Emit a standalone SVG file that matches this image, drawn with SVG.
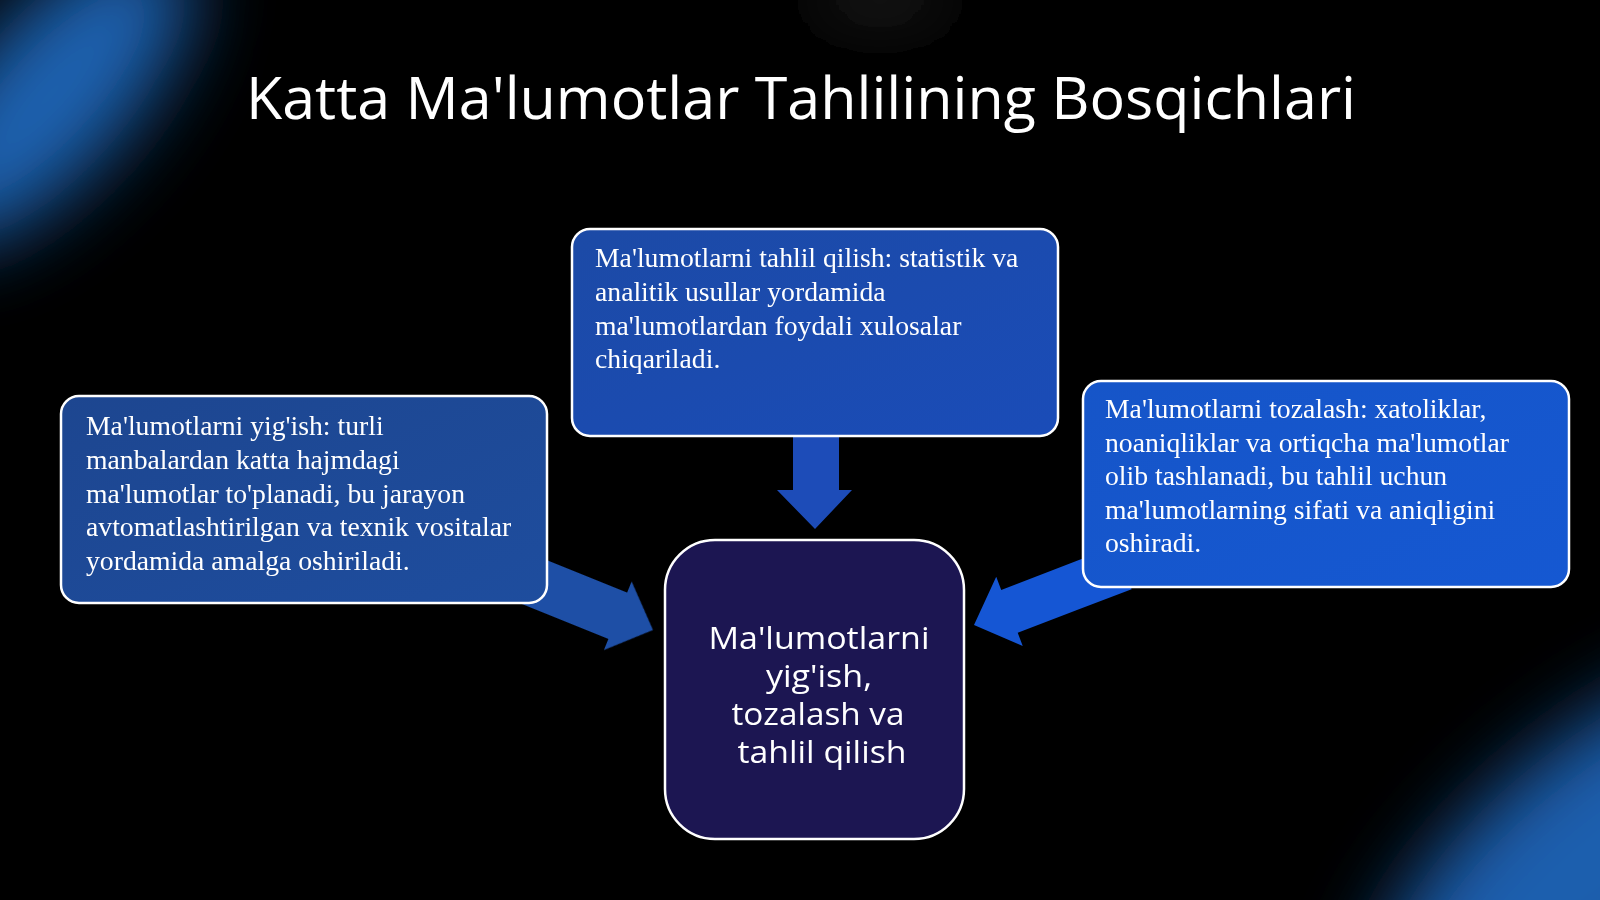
<svg xmlns="http://www.w3.org/2000/svg" width="1600" height="900" viewBox="0 0 1600 900">
  <defs>
    <filter id="blur" filterUnits="userSpaceOnUse" x="-400" y="-400" width="2400" height="1700">
      <feGaussianBlur stdDeviation="40"/>
    </filter>
    <filter id="blur2" filterUnits="userSpaceOnUse" x="600" y="-200" width="560" height="400">
      <feGaussianBlur stdDeviation="30"/>
    </filter>
    <linearGradient id="gLeft" x1="0" y1="0" x2="1" y2="1">
      <stop offset="0" stop-color="#1d4690"/>
      <stop offset="1" stop-color="#1e4d9e"/>
    </linearGradient>
    <linearGradient id="gTop" x1="0" y1="0" x2="1" y2="1">
      <stop offset="0" stop-color="#1c4aa6"/>
      <stop offset="1" stop-color="#1a4cb8"/>
    </linearGradient>
    <linearGradient id="gRight" x1="0" y1="0" x2="1" y2="1">
      <stop offset="0" stop-color="#1655c8"/>
      <stop offset="1" stop-color="#1558d2"/>
    </linearGradient>
    <style>
      .box { stroke: #ffffff; stroke-width: 2.5; }
      .btxt { font-family: "Liberation Serif", "Times New Roman", serif; font-size: 27.7px; fill: #ffffff; }
      .ctxt { font-family: "Open Sans", "Noto Sans", sans-serif; font-size: 31px; fill: #ffffff; text-anchor: middle; }
      .title { font-family: "Open Sans", "Noto Sans", sans-serif; font-size: 58px; fill: #ffffff; text-anchor: middle; }
    </style>
  </defs>

  <rect width="1600" height="900" fill="#000000"/>
  <!-- background glows -->
  <g filter="url(#blur)">
    <ellipse cx="50" cy="95" rx="190" ry="80" fill="#1c62b0" transform="rotate(-48 50 95)"/>
    <ellipse cx="1610" cy="850" rx="290" ry="115" fill="#1a5fae" transform="rotate(-38 1610 850)"/>
  </g>
  <ellipse cx="880" cy="0" rx="70" ry="18" fill="#262626" filter="url(#blur2)"/>

  <text class="title" x="801" y="119" textLength="1110" lengthAdjust="spacingAndGlyphs">Katta Ma'lumotlar Tahlilining Bosqichlari</text>

  <!-- connectors -->
  <g id="connectors">
    <polygon fill="#1d4cb8" points="793,437 839,437 839,490 852,490 815,529 777,490 793,490"/>
    <polygon fill="#1e4fa6" transform="translate(653,630) rotate(22)" points="0,0 -38,-37 -38,-25 -160,-25 -160,25 -38,25 -38,37"/>
    <polygon fill="#1556d4" transform="translate(974,625) rotate(159)" points="0,0 -38,-37 -38,-23 -160,-23 -160,23 -38,23 -38,37"/>
  </g>

  <g id="node-top">
    <rect class="box" x="572" y="229" width="486" height="207" rx="18" fill="url(#gTop)"/>
    <text class="btxt">
      <tspan x="595" y="267">Ma'lumotlarni tahlil qilish: statistik va</tspan>
      <tspan x="595" y="301">analitik usullar yordamida</tspan>
      <tspan x="595" y="335">ma'lumotlardan foydali xulosalar</tspan>
      <tspan x="595" y="368">chiqariladi.</tspan>
    </text>
  </g>

  <g id="node-left">
    <rect class="box" x="61" y="396" width="486" height="207" rx="18" fill="url(#gLeft)"/>
    <text class="btxt">
      <tspan x="86" y="435">Ma'lumotlarni yig'ish: turli</tspan>
      <tspan x="86" y="469">manbalardan katta hajmdagi</tspan>
      <tspan x="86" y="503">ma'lumotlar to'planadi, bu jarayon</tspan>
      <tspan x="86" y="536">avtomatlashtirilgan va texnik vositalar</tspan>
      <tspan x="86" y="570">yordamida amalga oshiriladi.</tspan>
    </text>
  </g>

  <g id="node-right">
    <rect class="box" x="1083" y="381" width="486" height="206" rx="18" fill="url(#gRight)"/>
    <text class="btxt">
      <tspan x="1105" y="418">Ma'lumotlarni tozalash: xatoliklar,</tspan>
      <tspan x="1105" y="452">noaniqliklar va ortiqcha ma'lumotlar</tspan>
      <tspan x="1105" y="485">olib tashlanadi, bu tahlil uchun</tspan>
      <tspan x="1105" y="519">ma'lumotlarning sifati va aniqligini</tspan>
      <tspan x="1105" y="552">oshiradi.</tspan>
    </text>
  </g>

  <g id="node-center">
    <rect class="box" x="665" y="540" width="299" height="299" rx="50" fill="#1c1652"/>
    <text class="ctxt">
      <tspan x="823" y="649" textLength="221" lengthAdjust="spacingAndGlyphs">Ma'lumotlarni</tspan>
      <tspan x="823" y="687" textLength="106" lengthAdjust="spacingAndGlyphs">yig'ish,</tspan>
      <tspan x="822" y="725" textLength="173" lengthAdjust="spacingAndGlyphs">tozalash va</tspan>
      <tspan x="822" y="763" textLength="169" lengthAdjust="spacingAndGlyphs">tahlil qilish</tspan>
    </text>
  </g>
</svg>
